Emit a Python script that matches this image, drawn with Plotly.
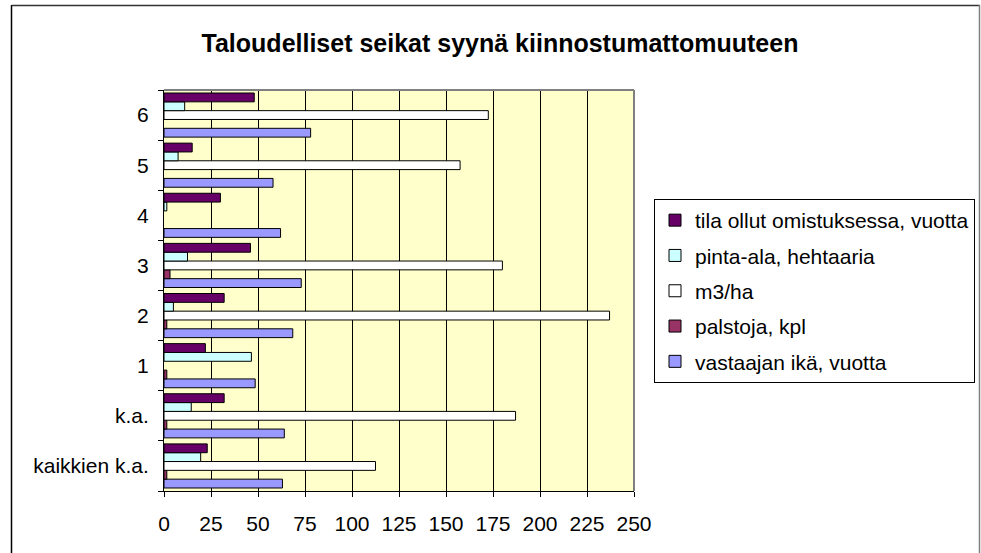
import plotly.graph_objects as go

categories = ["kaikkien k.a.", "k.a.", "1", "2", "3", "4", "5", "6"]
ika = [63, 64, 48.5, 68.5, 73, 62, 58, 78]
palstoja = [1.5, 1.5, 1.5, 1.5, 3.2, None, None, None]
m3_ha = [112.5, 187, None, 237, 180, None, 157.5, 172.5]
pinta_ala = [19.5, 14.5, 46.5, 5, 12.5, 1.5, 7.5, 11]
tila_vuotta = [23, 32, 22, 32, 46, 30, 15, 48]

series_names = ["vastaajan ikä, vuotta", "palstoja, kpl", "m3/ha",
                "pinta-ala, hehtaaria", "tila ollut omistuksessa, vuotta"]
series_values = [ika, palstoja, m3_ha, pinta_ala, tila_vuotta]
series_colors = ["#9999FF", "#993366", "#FFFFFF", "#CCFFFF", "#660066"]
x_ticks = [0, 25, 50, 75, 100, 125, 150, 175, 200, 225, 250]

W, H = 981, 553
L, R, T, B = 164, 347, 90, 62
PW, PH = W - L - R, H - T - B

def px(x):
    return (x - L) / PW

def py(y):
    return (H - B - y) / PH

FONT = "Liberation Sans, Arial, sans-serif"

fig = go.Figure()
n = len(series_names)
for i, (name, vals, col) in enumerate(zip(series_names, series_values, series_colors)):
    fig.add_trace(go.Bar(
        y=categories, x=vals, name=name, orientation="h",
        marker=dict(color=col, line=dict(color="black", width=1)),
        legendgroup=name, legendrank=n - i,
    ))

shapes = [
    dict(type="line", xref="paper", yref="paper", x0=0, x1=1, y0=1, y1=1,
         line=dict(color="#808080", width=2)),
    dict(type="line", xref="paper", yref="paper", x0=1, x1=1, y0=0, y1=1,
         line=dict(color="#808080", width=2)),
    dict(type="line", xref="paper", yref="paper", x0=px(11.5), x1=px(11.5),
         y0=py(5), y1=py(560), line=dict(color="black", width=1.5)),
    dict(type="line", xref="paper", yref="paper", x0=px(11.5), x1=px(980),
         y0=py(5.5), y1=py(5.5), line=dict(color="#333333", width=1.5)),
    dict(type="line", xref="paper", yref="paper", x0=px(979.5), x1=px(979.5),
         y0=py(5), y1=py(560), line=dict(color="#808080", width=1.5)),
]

fig.update_layout(
    width=W, height=H,
    margin=dict(l=L, r=R, t=T, b=B, pad=0, autoexpand=False),
    paper_bgcolor="white",
    plot_bgcolor="#FFFFCC",
    barmode="group",
    bargap=0.12,
    bargroupgap=0,
    font=dict(family=FONT, size=21, color="black"),
    title=dict(text="<b>Taloudelliset seikat syynä kiinnostumattomuuteen</b>",
               x=500 / W, xanchor="center", y=1 - 43 / H, yanchor="middle",
               font=dict(family=FONT, size=25, color="black")),
    xaxis=dict(range=[0, 250], tickvals=x_ticks, ticktext=[str(v) for v in x_ticks],
               showgrid=True, gridcolor="black", gridwidth=1,
               showline=True, linecolor="black", linewidth=1,
               ticks="outside", ticklen=5, tickcolor="black",
               ticklabelstandoff=9, zeroline=False, fixedrange=True),
    yaxis=dict(type="category", categoryorder="array", categoryarray=categories,
               showgrid=False, showline=True, linecolor="black", linewidth=1,
               ticks="outside", ticklen=5, tickcolor="black", tickson="boundaries",
               ticklabelstandoff=10, fixedrange=True),
    legend=dict(xref="container", yref="container",
                x=975 / W, xanchor="right", y=1 - 291 / H, yanchor="middle",
                traceorder="grouped", tracegroupgap=5,
                bgcolor="white", bordercolor="black", borderwidth=1,
                font=dict(family=FONT, size=21), itemwidth=30),
    shapes=shapes,
    showlegend=True,
)

fig.write_html("out.html", config={"displayModeBar": False},
               post_script="document.body.style.margin='0';")
